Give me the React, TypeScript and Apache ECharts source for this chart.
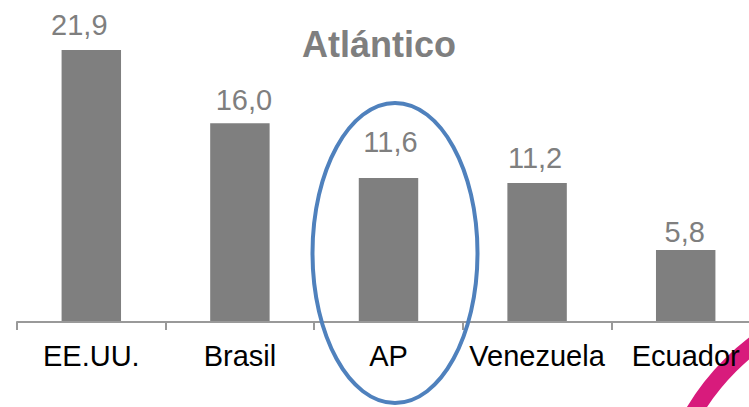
import React, { useEffect, useRef } from "react";
import * as echarts from "echarts";

const categories = ["EE.UU.", "Brasil", "AP", "Venezuela", "Ecuador"];
const values = [21.9, 16.0, 11.6, 11.2, 5.8];
const valueLabels = ["21,9", "16,0", "11,6", "11,2", "5,8"];
const labelDistances = [11, 9, 21, 10, 3];
const labelShiftX = [-12, 4, 2, -2, -1];
const titleText = "Atlántico";

const FONT = "'Liberation Sans', Arial, Helvetica, sans-serif";

export default function App() {
  const ref = useRef<HTMLDivElement>(null);
  useEffect(() => {
    if (!ref.current) return;
    const chart = echarts.init(ref.current, null, { renderer: "svg" });
    const data = values.map((v, i) => ({
      value: v,
      label: {
        distance: labelDistances[i],
        offset: [labelShiftX[i], 0],
        formatter: () => valueLabels[i],
      },
    }));
    chart.setOption({
      animation: false,
      backgroundColor: "#ffffff",
      grid: { left: 17, right: 0, top: 11.5, bottom: 85, containLabel: false },
      xAxis: {
        type: "category",
        data: categories,
        boundaryGap: true,
        z: 5,
        axisLine: { show: true, lineStyle: { color: "#999999", width: 2 } },
        axisTick: { show: true, length: 8, alignWithLabel: false, lineStyle: { color: "#999999", width: 2 } },
        axisLabel: {
          interval: 0,
          margin: 19,
          color: "#000000",
          fontSize: 29,
          fontFamily: FONT,
        },
        splitLine: { show: false },
      },
      yAxis: {
        type: "value",
        min: 0,
        max: 25,
        show: false,
        splitLine: { show: false },
      },
      series: [
        {
          type: "bar",
          data,
          barWidth: "40%",
          itemStyle: { color: "#7f7f7f" },
          label: {
            show: true,
            position: "top",
            color: "#7f7f7f",
            fontSize: 29,
            fontFamily: FONT,
          },
        },
      ],
      graphic: [
        {
          type: "text",
          x: 379,
          y: 44,
          z: 10,
          style: {
            text: titleText,
            fill: "#7f7f7f",
            fontSize: 36,
            fontWeight: "bold",
            fontFamily: FONT,
            textAlign: "center",
            textVerticalAlign: "middle",
          },
        },
        {
          type: "ellipse",
          z: 20,
          shape: { cx: 395, cy: 253, rx: 82.5, ry: 150 },
          style: { fill: "none", stroke: "#4f81bd", lineWidth: 4 },
        },
        {
          type: "arc",
          z: 0,
          shape: { cx: 900, cy: 535, r: 240, startAngle: Math.PI, endAngle: Math.PI * 1.5, clockwise: true },
          style: { fill: "none", stroke: "#d81b7c", lineWidth: 17 },
        },
      ],
    });
    return () => chart.dispose();
  }, []);
  return (
    <div style={{ position: "fixed", left: 0, top: 0, width: 749, height: 407, overflow: "hidden" }}>
      <div ref={ref} style={{ width: 760, height: 407 }} />
    </div>
  );
}
